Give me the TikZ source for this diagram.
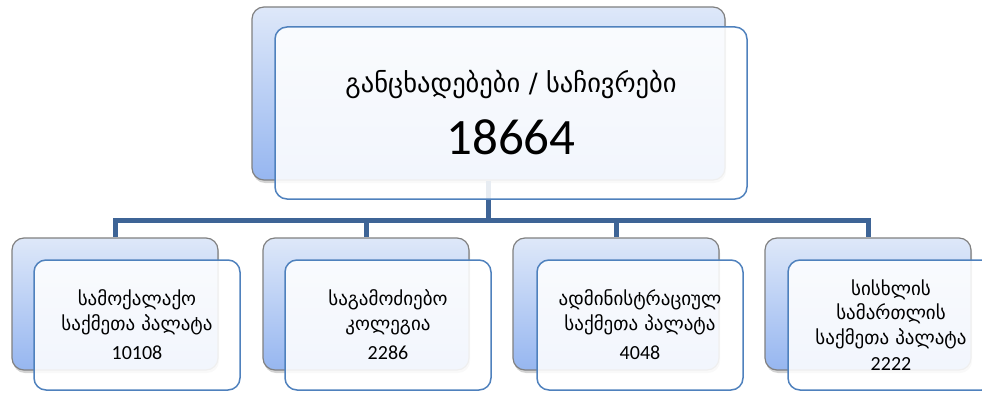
\documentclass[tikz,border=0pt]{standalone}
\usepackage{fontspec}
\setmainfont{Carlito}
\newfontfamily\geo{DejaVu Sans}
\usetikzlibrary{shadows}
\definecolor{conncol}{RGB}{62,100,150}
\definecolor{frontline}{RGB}{79,129,189}
\definecolor{backline}{RGB}{128,128,128}
\definecolor{backtop}{RGB}{222,232,249}
\definecolor{backbot}{RGB}{150,182,240}
\newcommand{\boxnum}[2]{{\normalfont\fontsize{#1}{#1}\selectfont #2}}
\tikzset{
  backbox/.style={draw=backline,line width=1.2pt,rounded corners=12pt,
    top color=backtop,bottom color=backbot,
    drop shadow={opacity=0.35,shadow xshift=1pt,shadow yshift=-3pt},
    minimum width=206pt,minimum height=132pt,inner sep=0pt},
  frontbox/.style={draw=frontline,line width=1.5pt,rounded corners=12pt,
    fill=white,fill opacity=0.88,text opacity=1,align=center,
    font=\geo\fontsize{19}{24.5}\selectfont,
    minimum width=206pt,minimum height=130pt,inner sep=0pt},
  conn/.style={draw=conncol,line width=5pt},
}
\begin{document}
\begin{tikzpicture}[x=1pt,y=-1pt]
\useasboundingbox (0,0) rectangle (982,393); % dimensioni del riferimento

\pgfmathsetmacro{\busy}{220} % quota della linea orizzontale
\pgfmathsetmacro{\backy}{304} % centro dei box posteriori
\pgfmathsetmacro{\fronty}{325} % centro dei box anteriori

% box principale (dietro)
\node[backbox,minimum width=473pt,minimum height=173pt] (topback) at (488.5,93.5) {};

% box posteriori in basso
\foreach \i/\x in {1/115,2/366,3/616,4/868}
  \node[backbox] (back\i) at (\x,\backy) {};

% connettori
\coordinate (bus) at (488.5,\busy);
\draw[conn] (topback.south) -- (bus);
\foreach \i in {1,...,4}
  \draw[conn] (bus) -| (back\i.north);

% box principale (davanti)
\node[frontbox,font=\geo\fontsize{26.5}{30}\selectfont,
  minimum width=472pt,minimum height=172pt] (topfront) at (511,113)
  {განცხადებები / საჩივრები\\[20pt] \boxnum{51}{18664}};

% box anteriori in basso
\node[frontbox] (front1) at (137,\fronty)
  {სამოქალაქო\\საქმეთა პალატა\\[5pt] \boxnum{20}{10108}};
\node[frontbox] (front2) at (388,\fronty)
  {საგამოძიებო\\კოლეგია\\[5pt] \boxnum{20}{2286}};
\node[frontbox] (front3) at (640,\fronty)
  {ადმინისტრაციულ\\საქმეთა პალატა\\[5pt] \boxnum{20}{4048}};
\node[frontbox] (front4) at (891,\fronty)
  {სისხლის\\სამართლის\\საქმეთა პალატა\\[2pt] \boxnum{20}{2222}};
\end{tikzpicture}
\end{document}
